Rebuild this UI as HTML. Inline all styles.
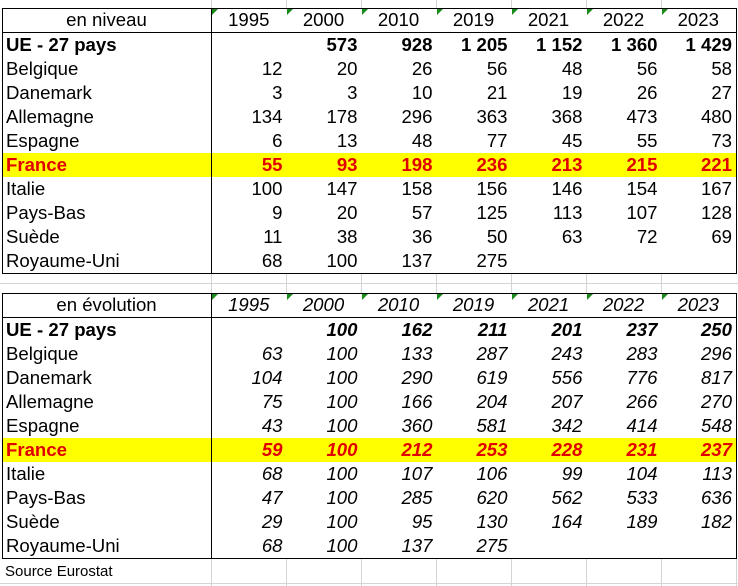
<!DOCTYPE html>
<html><head><meta charset="utf-8"><style>
body{margin:0;background:#fff;width:738px;height:586px;position:relative;overflow:hidden;font-family:"Liberation Sans",Arial,sans-serif;font-size:18.6px;color:#000}
.g{position:absolute;background:#d4d4d4}
table{position:absolute;left:2px;border-collapse:collapse;border:1.5px solid #000;table-layout:fixed;background:#fff}
td{height:24px;padding:0 4px 0 3px;white-space:nowrap;text-align:right;line-height:24px;overflow:hidden}
td:first-child{text-align:left;border-right:1.5px solid #000}
tr.h td{text-align:center;position:relative;border-bottom:1.5px solid #000;height:22.5px;line-height:22.5px}
tr.h td:not(:first-child)::before{content:"";position:absolute;left:0;top:0;border-top:6px solid #1a8a1a;border-right:6px solid transparent}
.b td{font-weight:bold}
.f td{background:#ffff00;color:#e00000;font-weight:bold}
.i td:not(:first-child){font-style:italic}
</style></head><body>
<div class="g" style="left:211px;top:0;width:1px;height:8px"></div>
<div class="g" style="left:286px;top:0;width:1px;height:8px"></div>
<div class="g" style="left:361px;top:0;width:1px;height:8px"></div>
<div class="g" style="left:436px;top:0;width:1px;height:8px"></div>
<div class="g" style="left:511px;top:0;width:1px;height:8px"></div>
<div class="g" style="left:586px;top:0;width:1px;height:8px"></div>
<div class="g" style="left:661px;top:0;width:1px;height:8px"></div>
<div class="g" style="left:0;top:283px;width:738px;height:1px"></div>
<div class="g" style="left:211px;top:272px;width:1px;height:21px"></div>
<div class="g" style="left:286px;top:272px;width:1px;height:21px"></div>
<div class="g" style="left:361px;top:272px;width:1px;height:21px"></div>
<div class="g" style="left:436px;top:272px;width:1px;height:21px"></div>
<div class="g" style="left:511px;top:272px;width:1px;height:21px"></div>
<div class="g" style="left:586px;top:272px;width:1px;height:21px"></div>
<div class="g" style="left:661px;top:272px;width:1px;height:21px"></div>
<div class="g" style="left:211px;top:559px;width:1px;height:27px"></div>
<div class="g" style="left:286px;top:559px;width:1px;height:27px"></div>
<div class="g" style="left:361px;top:559px;width:1px;height:27px"></div>
<div class="g" style="left:436px;top:559px;width:1px;height:27px"></div>
<div class="g" style="left:511px;top:559px;width:1px;height:27px"></div>
<div class="g" style="left:586px;top:559px;width:1px;height:27px"></div>
<div class="g" style="left:661px;top:559px;width:1px;height:27px"></div>
<div class="g" style="left:736px;top:559px;width:1px;height:27px"></div>
<div class="g" style="left:0;top:583px;width:738px;height:1px"></div>

<table style="top:8px;width:734px">
<colgroup><col style="width:209px"><col style="width:75px"><col style="width:75px"><col style="width:75px"><col style="width:75px"><col style="width:75px"><col style="width:75px"><col style="width:75px"></colgroup>
<tr class="h"><td style="text-align:center">en niveau</td><td>1995</td><td>2000</td><td>2010</td><td>2019</td><td>2021</td><td>2022</td><td>2023</td></tr>
<tr class="b"><td>UE - 27 pays</td><td></td><td>573</td><td>928</td><td>1 205</td><td>1 152</td><td>1 360</td><td>1 429</td></tr>
<tr><td>Belgique</td><td>12</td><td>20</td><td>26</td><td>56</td><td>48</td><td>56</td><td>58</td></tr>
<tr><td>Danemark</td><td>3</td><td>3</td><td>10</td><td>21</td><td>19</td><td>26</td><td>27</td></tr>
<tr><td>Allemagne</td><td>134</td><td>178</td><td>296</td><td>363</td><td>368</td><td>473</td><td>480</td></tr>
<tr><td>Espagne</td><td>6</td><td>13</td><td>48</td><td>77</td><td>45</td><td>55</td><td>73</td></tr>
<tr class="f"><td>France</td><td>55</td><td>93</td><td>198</td><td>236</td><td>213</td><td>215</td><td>221</td></tr>
<tr><td>Italie</td><td>100</td><td>147</td><td>158</td><td>156</td><td>146</td><td>154</td><td>167</td></tr>
<tr><td>Pays-Bas</td><td>9</td><td>20</td><td>57</td><td>125</td><td>113</td><td>107</td><td>128</td></tr>
<tr><td>Suède</td><td>11</td><td>38</td><td>36</td><td>50</td><td>63</td><td>72</td><td>69</td></tr>
<tr><td>Royaume-Uni</td><td>68</td><td>100</td><td>137</td><td>275</td><td></td><td></td><td></td></tr>
</table>

<table class="i" style="top:293px;width:734px">
<colgroup><col style="width:209px"><col style="width:75px"><col style="width:75px"><col style="width:75px"><col style="width:75px"><col style="width:75px"><col style="width:75px"><col style="width:75px"></colgroup>
<tr class="h"><td style="text-align:center">en évolution</td><td>1995</td><td>2000</td><td>2010</td><td>2019</td><td>2021</td><td>2022</td><td>2023</td></tr>
<tr class="b"><td>UE - 27 pays</td><td></td><td>100</td><td>162</td><td>211</td><td>201</td><td>237</td><td>250</td></tr>
<tr><td>Belgique</td><td>63</td><td>100</td><td>133</td><td>287</td><td>243</td><td>283</td><td>296</td></tr>
<tr><td>Danemark</td><td>104</td><td>100</td><td>290</td><td>619</td><td>556</td><td>776</td><td>817</td></tr>
<tr><td>Allemagne</td><td>75</td><td>100</td><td>166</td><td>204</td><td>207</td><td>266</td><td>270</td></tr>
<tr><td>Espagne</td><td>43</td><td>100</td><td>360</td><td>581</td><td>342</td><td>414</td><td>548</td></tr>
<tr class="f"><td>France</td><td>59</td><td>100</td><td>212</td><td>253</td><td>228</td><td>231</td><td>237</td></tr>
<tr><td>Italie</td><td>68</td><td>100</td><td>107</td><td>106</td><td>99</td><td>104</td><td>113</td></tr>
<tr><td>Pays-Bas</td><td>47</td><td>100</td><td>285</td><td>620</td><td>562</td><td>533</td><td>636</td></tr>
<tr><td>Suède</td><td>29</td><td>100</td><td>95</td><td>130</td><td>164</td><td>189</td><td>182</td></tr>
<tr><td>Royaume-Uni</td><td>68</td><td>100</td><td>137</td><td>275</td><td></td><td></td><td></td></tr>
</table>
<div style="position:absolute;left:5px;top:563px;font-size:15px">Source Eurostat</div>
</body></html>
